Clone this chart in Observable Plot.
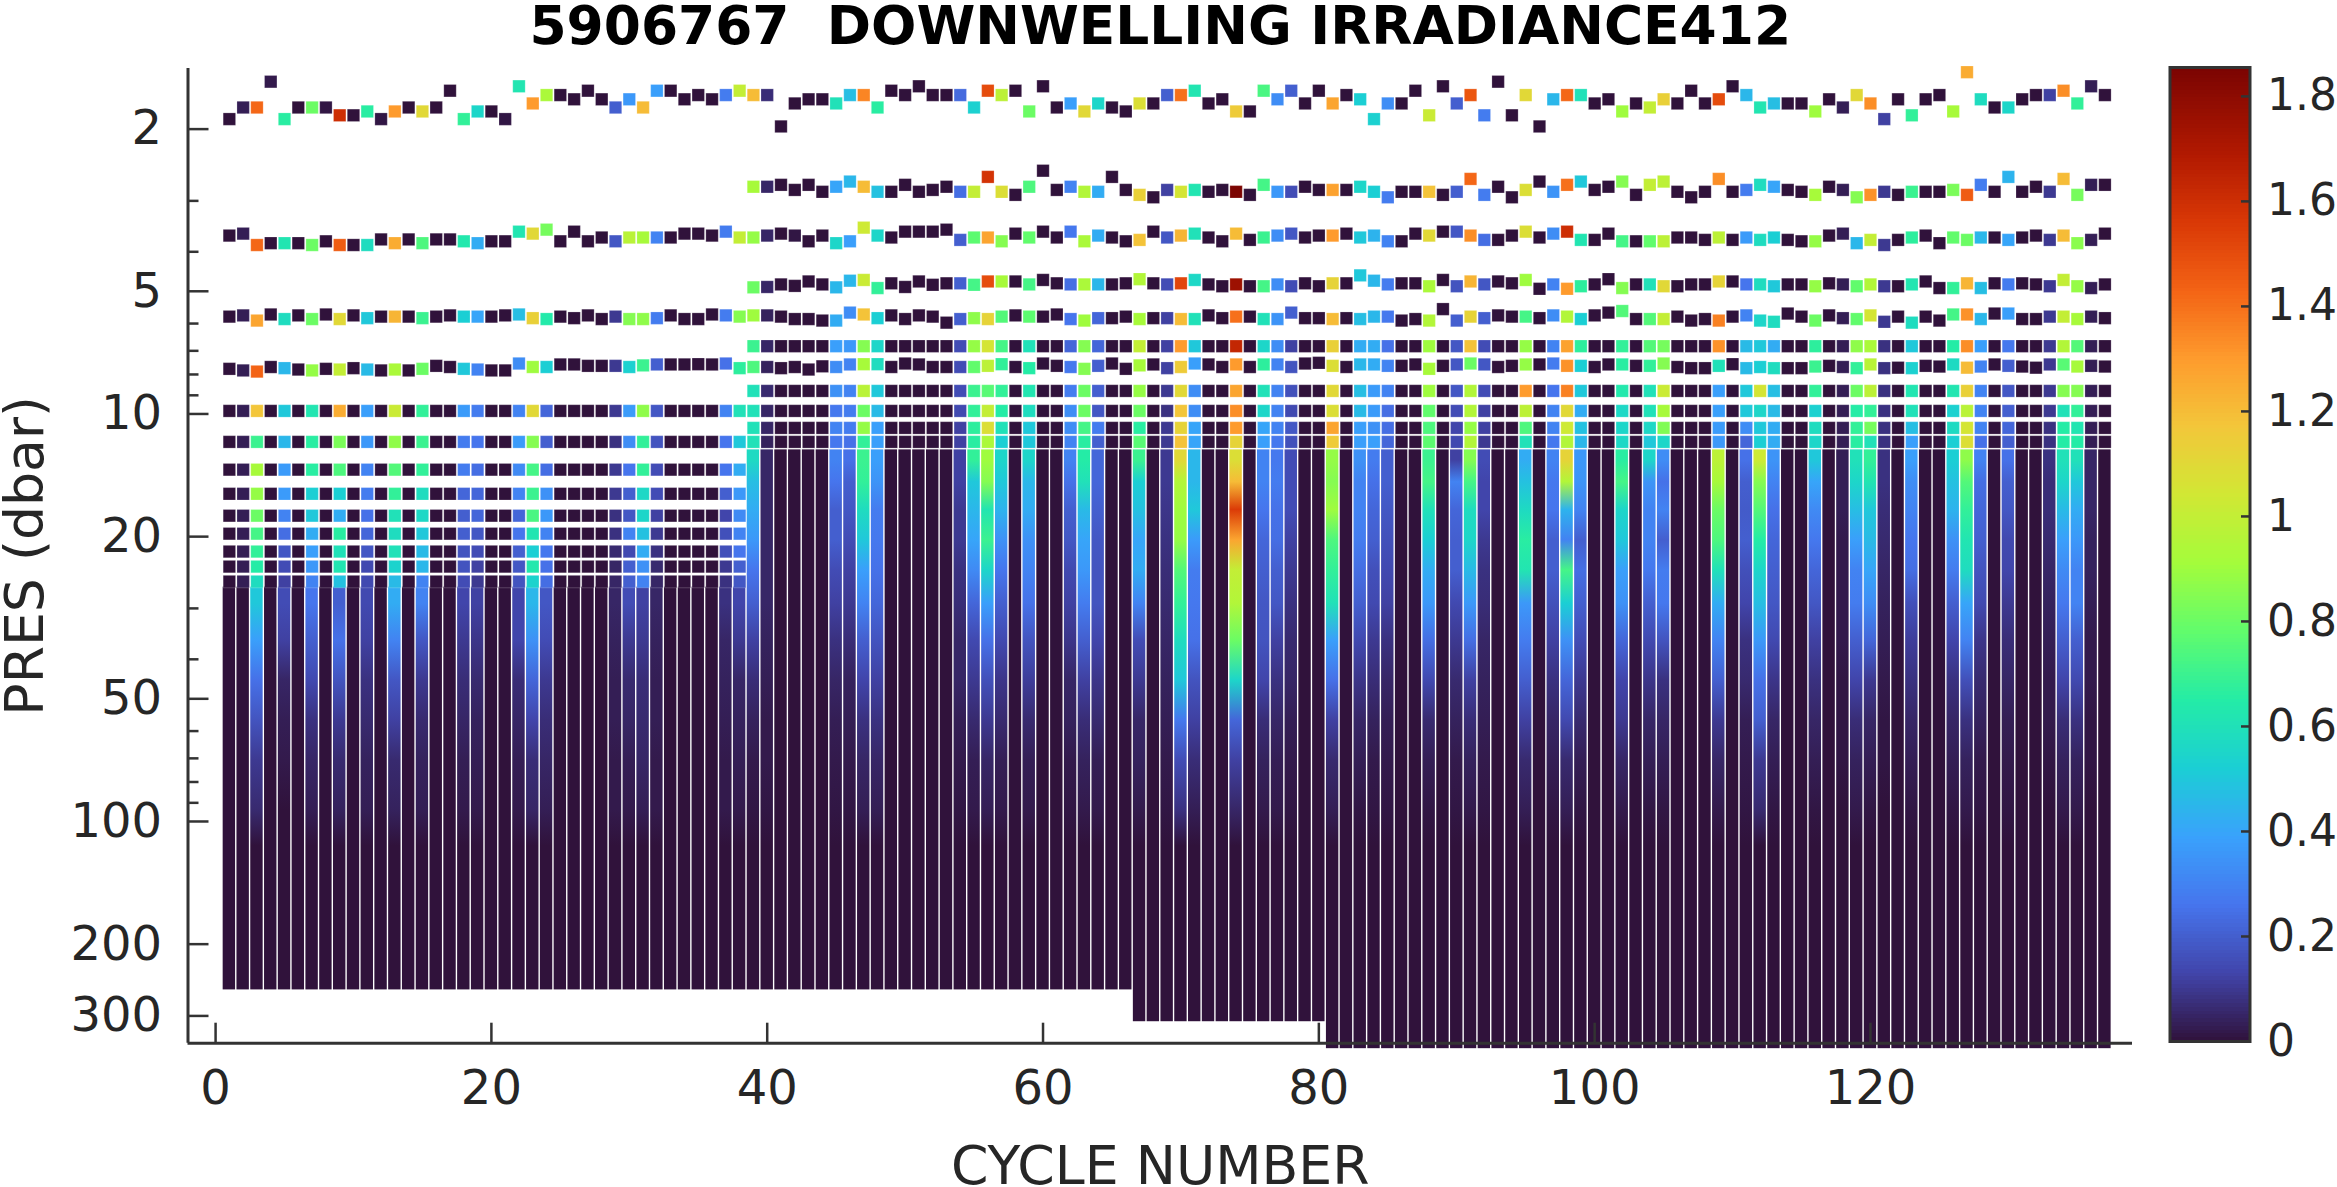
<!DOCTYPE html>
<html><head><meta charset="utf-8">
<script src="https://cdn.jsdelivr.net/npm/d3@7"></script>
<script src="https://cdn.jsdelivr.net/npm/@observablehq/plot@0.6"></script>
<style>html,body{margin:0;padding:0;background:#fff;width:2337px;height:1187px;overflow:hidden}
#main,#bar{position:absolute;top:0}#main{left:0}#bar{left:2100px}svg{display:block;overflow:visible;font-family:"DejaVu Sans"}</style>
</head><body><div id="main"></div><div id="bar"></div>
<script>
const titleText = "5906767  DOWNWELLING IRRADIANCE412";
const xLabel = "CYCLE NUMBER", yLabel = "PRES (dbar)";
const xTicks = [0,20,40,60,80,100,120];
const yMajor = [2,5,10,20,50,100,200,300];
const yMinor = [3,4,6,7,8,9,30,40,60,70,80,90];
const barTicks = [0,.2,.4,.6,.8,1,1.2,1.4,1.6,1.8];
const colorStops = [0,.13,.26,.39,.52,.65,.78,.91,1.04,1.17,1.3,1.43,1.56,1.69,1.855];
const colorRange = ["#30123b","#4145ab","#4675ed","#39a2fc","#1bcfd4","#24eca6","#61fc6c","#a4fc3b","#d1e834","#f3c63a","#fe9b2d","#f36315","#d93806","#b11901","#7a0402"];

// levels with a pressure read per cycle, cycles 1..137
const p1 = [1.89,1.77,1.77,1.53,1.89,1.77,1.77,1.77,1.85,1.85,1.81,1.89,1.81,1.77,1.81,1.77,1.61,1.89,1.81,1.81,1.89,1.57,1.73,1.65,1.65,1.69,1.61,1.69,1.77,1.69,1.77,1.61,1.61,1.69,1.65,1.69,1.65,1.61,1.65,1.65,1.97,1.73,1.69,1.69,1.73,1.65,1.65,1.77,1.61,1.65,1.57,1.65,1.65,1.65,1.77,1.61,1.65,1.61,1.81,1.57,1.77,1.73,1.81,1.73,1.77,1.81,1.73,1.73,1.65,1.65,1.61,1.73,1.69,1.81,1.81,1.61,1.69,1.61,1.73,1.61,1.73,1.65,1.69,1.89,1.73,1.73,1.61,1.85,1.57,1.73,1.65,1.85,1.53,1.85,1.65,1.97,1.69,1.65,1.65,1.73,1.69,1.81,1.73,1.77,1.69,1.73,1.61,1.73,1.69,1.57,1.65,1.77,1.73,1.73,1.73,1.81,1.69,1.77,1.65,1.73,1.89,1.69,1.85,1.69,1.65,1.81,1.45,1.69,1.77,1.77,1.69,1.65,1.65,1.61,1.73,1.57,1.65];
const v1 = [0,.03,1.42,.02,.66,0,.8,.01,1.6,0,.66,.01,1.3,0,1.1,0,0,.68,.55,0,.01,.62,1.3,.93,0,0,0,0,.2,.36,1.2,.38,0,0,0,0,.28,1,1.2,.07,0,0,0,0,.6,.47,1.35,.66,0,0,0,0,0,.23,.53,1.5,.98,0,.8,0,0,.38,1.1,.55,0,0,1.08,0,.2,1.4,.62,0,0,1.15,0,.73,.33,.2,0,0,1.27,0,.52,.53,.33,0,0,1.02,0,.2,1.47,.28,0,0,1.1,0,.45,1.42,.6,0,0,.9,0,1,1.13,0,0,0,1.5,0,.45,.62,.47,0,0,.9,0,.03,1.1,1.33,.12,0,.68,0,0,.92,1.25,.58,0,.55,0,0,.12,1.33,.68,.03,0];
const p3 = [3.65,3.61,3.85,3.81,3.81,3.81,3.85,3.77,3.85,3.85,3.85,3.73,3.81,3.73,3.81,3.73,3.73,3.77,3.81,3.77,3.77,3.57,3.61,3.53,3.77,3.57,3.77,3.69,3.77,3.69,3.69,3.69,3.69,3.61,3.61,3.65,3.57,3.69,3.69,3.65,3.61,3.65,3.77,3.65,3.81,3.77,3.49,3.65,3.69,3.57,3.57,3.57,3.53,3.74,3.69,3.69,3.77,3.61,3.69,3.57,3.69,3.57,3.77,3.65,3.69,3.77,3.74,3.57,3.69,3.65,3.61,3.69,3.77,3.61,3.74,3.69,3.65,3.61,3.69,3.65,3.65,3.61,3.69,3.65,3.77,3.77,3.61,3.65,3.57,3.57,3.65,3.74,3.74,3.65,3.57,3.69,3.61,3.57,3.74,3.74,3.61,3.77,3.77,3.77,3.77,3.69,3.69,3.74,3.69,3.74,3.69,3.74,3.69,3.74,3.77,3.77,3.65,3.61,3.81,3.74,3.85,3.74,3.69,3.65,3.81,3.69,3.74,3.69,3.69,3.74,3.69,3.65,3.74,3.65,3.81,3.74,3.61];
const v3 = [0,.03,1.42,0,.62,0,.8,0,1.45,0,.58,0,1.25,0,.74,0,0,.63,.42,0,0,.62,1.1,.82,0,0,0,0,.18,.97,.92,.3,0,0,0,0,.28,1,.88,.05,0,.01,0,0,.55,.38,1.03,.55,0,0,0,0,0,.2,.77,1.27,.85,0,.78,0,0,.27,.93,.42,0,0,1.18,0,.18,1.22,.6,0,0,1.2,0,.7,.33,.18,0,0,1.3,0,.5,.44,.3,0,0,1.1,0,.18,1.33,.24,0,0,1.08,0,.33,1.6,.62,0,0,.72,0,.78,.98,0,0,0,.98,0,.37,.58,.52,0,0,.88,0,.03,.45,1,.1,0,.67,0,0,.78,.8,.45,0,.4,0,0,.1,1.2,.86,.03,0];
const p5 = [5.77,5.73,5.9,5.7,5.85,5.73,5.85,5.7,5.85,5.73,5.82,5.77,5.77,5.77,5.82,5.77,5.73,5.77,5.77,5.77,5.73,5.7,5.82,5.85,5.77,5.82,5.73,5.85,5.77,5.85,5.85,5.82,5.73,5.85,5.85,5.7,5.73,5.77,5.73,5.73,5.77,5.85,5.85,5.9,5.9,5.64,5.7,5.82,5.73,5.85,5.73,5.77,5.97,5.85,5.82,5.85,5.77,5.73,5.77,5.77,5.7,5.85,5.9,5.82,5.82,5.77,5.85,5.82,5.82,5.85,5.85,5.73,5.82,5.77,5.77,5.85,5.85,5.64,5.82,5.82,5.85,5.82,5.85,5.77,5.77,5.9,5.85,5.9,5.53,5.9,5.77,5.82,5.73,5.77,5.77,5.82,5.73,5.77,5.85,5.73,5.64,5.59,5.85,5.85,5.85,5.77,5.9,5.85,5.9,5.77,5.73,5.9,5.94,5.67,5.77,5.9,5.73,5.82,5.85,5.73,5.94,5.77,5.97,5.77,5.9,5.7,5.7,5.85,5.67,5.67,5.85,5.85,5.77,5.77,5.85,5.77,5.82];
const v5 = [0,.03,1.27,0,.58,0,.8,0,1.1,0,.5,0,1.22,0,.7,0,0,.52,.4,0,0,.47,1.13,.64,0,0,0,0,.1,.85,.87,.28,0,0,0,0,.28,.85,.9,.04,0,0,0,0,.42,.33,1.18,.52,0,0,0,0,0,.2,.87,1.12,.75,0,.77,0,0,.26,.9,.22,0,0,.92,0,.12,1.2,.6,0,0,1.4,0,.6,.35,.2,0,0,1.2,0,.47,.45,.27,0,0,.95,0,.2,1.12,.2,0,0,.72,0,.33,.95,.52,0,0,.75,0,.75,1,0,0,0,1.36,0,.3,.55,.58,0,0,.8,0,.03,.78,1.05,.1,0,.58,0,0,.72,1.32,.45,0,.38,0,0,.1,1,.92,.03,0];
const p7 = [7.75,7.82,7.87,7.67,7.72,7.78,7.82,7.75,7.78,7.72,7.78,7.82,7.78,7.82,7.75,7.62,7.67,7.75,7.78,7.82,7.82,7.52,7.67,7.67,7.56,7.56,7.62,7.62,7.62,7.67,7.6,7.56,7.56,7.56,7.55,7.56,7.52,7.72,7.67,7.67,7.72,7.67,7.78,7.64,7.67,7.56,7.55,7.55,7.67,7.52,7.56,7.67,7.67,7.67,7.67,7.62,7.55,7.67,7.72,7.52,7.62,7.67,7.75,7.62,7.52,7.75,7.6,7.56,7.72,7.67,7.52,7.56,7.67,7.56,7.67,7.56,7.56,7.67,7.52,7.49,7.62,7.67,7.56,7.56,7.62,7.62,7.56,7.75,7.62,7.56,7.52,7.56,7.67,7.62,7.56,7.56,7.52,7.62,7.62,7.67,7.56,7.56,7.62,7.62,7.52,7.67,7.72,7.72,7.62,7.55,7.72,7.67,7.72,7.72,7.72,7.65,7.62,7.67,7.72,7.56,7.72,7.7,7.72,7.62,7.65,7.56,7.7,7.65,7.56,7.62,7.65,7.7,7.56,7.56,7.65,7.62,7.65];
const v7 = [0,.03,1.43,0,.45,0,.88,0,1,0,.46,0,.93,0,.8,0,0,.5,.3,0,0,.33,.9,.52,0,0,0,0,.1,.53,.7,.2,0,0,0,0,.25,.67,.74,.04,0,0,0,0,.33,.3,.92,.58,0,0,0,0,0,.15,.78,.98,.68,0,.65,0,0,.27,.85,.2,0,0,.92,0,.12,1.15,.38,0,0,1.3,0,.67,.3,.17,0,0,1.08,0,.45,.42,.3,0,0,.92,0,.18,.8,.18,0,0,.88,0,.28,1.32,.52,0,0,.66,0,.68,.85,0,0,0,.6,0,.46,.52,.58,0,0,.7,0,.03,.68,.97,.08,0,.53,0,0,.57,1.2,.3,0,.2,0,0,.1,.76,.92,.03,0];
// all-cycle levels at a typical pressure
const allP = [9.83,11.71];
const v9 = [0,.03,1.17,0,.5,0,.62,0,1.25,0,.38,0,1.02,0,.68,0,0,.37,.28,0,0,.3,1.1,.22,0,0,0,0,.1,.37,.87,.18,0,0,0,0,.3,.6,.6,.05,0,0,0,0,.27,.28,.8,.46,0,0,0,0,0,.14,.68,1,.65,0,.58,0,0,.33,.8,.18,0,0,.8,0,.08,1.17,.33,0,0,1.33,0,.55,.3,.14,0,0,1.08,0,.46,.37,.24,0,0,.78,0,.15,.95,.12,0,0,.98,0,.3,1.1,.42,0,0,.56,0,.6,.92,0,0,0,.38,0,.5,.55,.46,0,0,.53,0,.03,.65,.68,.08,0,.6,0,0,.53,.97,.3,0,.2,0,0,.1,.6,.68,.03,0];
const v11 = [0,.03,.7,0,.45,0,.66,0,.83,0,.36,0,.87,0,.7,0,0,.28,.26,0,0,.37,.85,.2,0,0,0,0,.08,.33,.68,.17,0,0,0,0,.26,.5,.6,.04,0,0,0,0,.27,.25,.68,.38,0,0,0,0,0,.12,.66,.93,.52,0,.5,0,0,.3,.66,.2,0,0,.76,0,.1,1.18,.4,0,0,1.12,0,.38,.27,.16,0,0,1.15,0,.38,.38,.22,0,0,.77,0,.14,.95,.1,0,0,.6,0,.27,.95,.45,0,0,.56,0,.5,.55,0,0,0,.36,0,.22,.52,.42,0,0,.55,0,.03,.66,.6,.08,0,.38,0,0,.52,1.08,.25,0,.2,0,0,.08,.65,.65,.03,0];
// levels only sampled from cycle 39 on, cycles 39..137
const q3 = [2.77,2.77,2.74,2.82,2.74,2.85,2.77,2.69,2.77,2.85,2.85,2.74,2.85,2.82,2.77,2.85,2.85,2.62,2.85,2.9,2.77,2.53,2.82,2.77,2.85,2.85,2.62,2.82,2.9,2.94,2.82,2.85,2.82,2.85,2.82,2.85,2.9,2.74,2.85,2.85,2.77,2.82,2.82,2.82,2.77,2.85,2.94,2.85,2.85,2.85,2.9,2.85,2.65,2.9,2.77,2.94,2.82,2.69,2.85,2.74,2.69,2.82,2.77,2.69,2.9,2.74,2.69,2.85,2.94,2.85,2.65,2.85,2.82,2.74,2.77,2.82,2.85,2.9,2.77,2.82,2.94,2.9,2.85,2.9,2.85,2.85,2.85,2.82,2.9,2.74,2.85,2.62,2.85,2.77,2.85,2.65,2.9,2.74,2.74];
const w3 = [.92,.05,0,0,0,0,.4,.45,1.2,.48,0,0,0,0,0,.24,1,1.58,1.08,0,.74,0,0,.3,.95,.42,0,0,1.13,0,.12,1.05,.62,0,0,1.85,0,.72,.36,.15,0,0,1.28,0,.55,.52,.28,0,0,1.18,0,.2,1.42,.28,0,0,1.08,0,.35,1.4,.5,0,0,.85,0,1,.98,0,0,0,1.33,0,.28,.58,.4,0,0,.92,0,.03,.85,1.32,.1,0,.7,0,0,.83,1.45,.28,0,.44,0,0,.1,1.2,.82,.03,0];
const q5 = [4.89,4.88,4.81,4.85,4.73,4.81,4.89,4.71,4.69,4.91,4.78,4.88,4.73,4.82,4.78,4.78,4.82,4.73,4.73,4.73,4.81,4.69,4.78,4.81,4.81,4.81,4.81,4.78,4.67,4.78,4.81,4.78,4.69,4.81,4.86,4.81,4.86,4.86,4.81,4.86,4.78,4.86,4.78,4.78,4.57,4.71,4.81,4.78,4.78,4.86,4.69,4.86,4.73,4.81,4.73,4.78,4.69,4.93,4.81,4.93,4.86,4.81,4.67,4.91,4.81,4.81,4.86,4.86,4.81,4.81,4.73,4.73,4.81,4.81,4.86,4.81,4.81,4.86,4.78,4.81,4.86,4.81,4.86,4.86,4.81,4.73,4.91,4.91,4.78,4.91,4.78,4.81,4.78,4.81,4.86,4.69,4.86,4.91,4.81];
const w5 = [.8,.05,0,0,0,0,.45,.45,1.02,.68,0,0,0,0,0,.2,.72,1.5,.92,0,.72,0,0,.24,.93,.45,0,0,.95,0,.15,1.52,.56,0,0,1.75,0,.72,.33,.15,0,0,1.12,0,.5,.45,.28,0,0,.93,0,.17,1.22,.18,0,0,.9,0,.3,1.3,.67,0,0,.85,0,.6,1.1,0,0,0,1.12,0,.26,.58,.5,0,0,.88,0,.03,.78,.95,.1,0,.62,0,0,.68,1.22,.47,0,.28,0,0,.1,1,.88,.03,0];
const laterP = [6.82,8.78,10.82];
const w7 = [.7,.05,0,0,0,0,.38,.36,.85,.55,0,0,0,0,0,.15,.88,1.05,.72,0,.6,0,0,.22,.85,.22,0,0,1,0,.12,1.3,.5,0,0,1.63,0,.55,.33,.12,0,0,1.13,0,.42,.42,.25,0,0,.9,0,.18,1.18,.15,0,0,.88,0,.3,1.28,.67,0,0,.68,0,.75,.82,0,0,0,1.32,0,.46,.5,.42,0,0,.67,0,.03,.87,.93,.08,0,.5,0,0,.65,1.33,.38,0,.27,0,0,.1,.95,.75,.03,0];
const w9 = [.6,.06,0,0,0,0,.34,.3,.97,.5,0,0,0,0,0,.15,.7,.76,.68,0,.62,0,0,.28,.8,.2,0,0,.88,0,.1,1.1,.33,0,0,1.27,0,.6,.3,.16,0,0,1.1,0,.47,.37,.3,0,0,.9,0,.18,.95,.15,0,0,1.3,0,.26,1.36,.5,0,0,.63,0,.6,1.02,0,0,0,.38,0,.5,1.05,.47,0,0,.68,0,.03,.8,.98,.08,0,.62,0,0,.62,1.13,.3,0,.18,0,0,.1,.85,.85,.03,0];
const w11 = [.6,.05,0,0,0,0,.3,.28,.88,.38,0,0,0,0,0,.12,.67,1.08,.6,0,.5,0,0,.33,.72,.28,0,0,.66,0,.1,1.12,.4,0,0,1.3,0,.4,.3,.18,0,0,1.27,0,.38,.34,.24,0,0,.74,0,.13,.88,.12,0,0,.74,0,.3,1.03,.48,0,0,.55,0,.56,.84,0,0,0,.37,0,.33,.5,.42,0,0,.58,0,.03,.68,.82,.08,0,.47,0,0,.57,1.05,.3,0,.22,0,0,.08,.65,.62,.03,0];
// levels only separated before cycle 39; non-dark cycles listed
const earlyCycles = [3,5,7,9,11,13,15,18,19,22,23,24,29,30,31,32,37,38];
const earlyP = [13.7,15.7,17.77,19.67,21.76,23.69,25.78];
const e1 = [.92,.37,.66,.74,.3,.75,.68,.28,.24,.32,.72,.24,.1,.26,.68,.15,.26,.42];
const e2 = [.88,.37,.52,.52,.28,.68,.58,.22,.22,.3,.7,.34,.1,.2,.56,.15,.2,.36];
const e3 = [.8,.3,.5,.42,.25,.6,.56,.2,.22,.22,.73,.36,.08,.18,.55,.12,.13,.32];
const e4 = [.72,.24,.42,.66,.22,.58,.5,.2,.18,.26,.62,.3,.08,.3,.48,.1,.16,.3];
const e5 = [.68,.18,.38,.6,.18,.6,.46,.17,.15,.2,.52,.27,.06,.14,.42,.08,.16,.26];
const e6 = [.65,.15,.36,.62,.14,.54,.45,.17,.12,.18,.63,.25,.05,.2,.34,.06,.1,.2];
const e7 = [.58,.12,.3,.48,.14,.46,.3,.15,.1,.17,.54,.24,.05,.2,.3,.05,.08,.18];
// continuous lower water column: pressures at which each profile was read
const bandP = [13,14.7,17.2,20.4,24.2,29.2,36,45,56.5,71,94];
const earlyDeep = [[.5,.38,.25,.17,.1,.06],[.15,.12,.05,.03,.02,0],[.26,.2,.14,.08,.05,.03],[.2,.25,.17,.1,.06,.04],[.14,.12,.08,.06,.04,.03],[.42,.3,.18,.12,.06,.04],[.3,.18,.1,.06,.04,.03],[.13,.1,.07,.05,.03,.02],[.12,.09,.06,.04,.03,.02],[.13,.13,.07,.05,.03,.02],[.45,.34,.22,.13,.07,.05],[.18,.15,.1,.07,.05,.03],[.05,.04,.03,.03,.02,.02],[.15,.1,.06,.05,.03,.02],[.12,.1,.07,.06,.05,.03],[.05,.04,.03,.03,.02,.02],[.08,.05,.04,.03,.02,.02],[.13,.1,.05,.04,.03,.02]];
const lateCycles = [39,40,45,46,47,48,54,55,56,57,59,62,63,64,67,69,70,71,74,76,77,78,81,83,84,85,88,90,91,92,95,97,98,99,102,104,105,109,111,112,113,116,118,119,120,121,123,126,127,128,130,133,134,135,136];
const lateDeep = [
[.57,.47,.42,.36,.26,.2,.12,.07,.04,.02,.01],[.05,.05,.05,.05,.05,.05,.04,.03,.02,.02,.01],[.3,.26,.2,.2,.15,.12,.08,.05,.03,.02,.01],[.25,.2,.18,.15,.12,.1,.07,.04,.03,.02,.01],
[.7,.68,.58,.5,.38,.3,.2,.13,.08,.05,.03],[.38,.35,.28,.27,.25,.22,.17,.12,.08,.05,.03],[.12,.12,.1,.1,.08,.07,.05,.05,.03,.02,.01],[.68,.5,.45,.4,.32,.22,.14,.1,.06,.03,.02],
[.9,.85,.62,.7,.55,.38,.25,.16,.1,.05,.03],[.55,.5,.44,.34,.26,.2,.14,.09,.06,.03,.02],[.55,.45,.42,.34,.3,.25,.17,.11,.06,.03,.02],[.3,.25,.2,.18,.14,.12,.09,.05,.04,.02,.01],
[.65,.6,.46,.4,.36,.28,.2,.12,.07,.04,.02],[.22,.22,.2,.18,.17,.17,.13,.09,.06,.03,.02],[.7,.52,.48,.4,.42,.3,.15,.1,.05,.04,.02],[.1,.1,.09,.08,.07,.06,.05,.04,.03,.02,.01],
[1.1,.95,.9,.88,.75,.68,.58,.5,.27,.15,.08],[.45,.45,.5,.37,.28,.27,.25,.17,.12,.07,.03],[1.08,1.2,1.55,1.27,1,.95,.8,.55,.22,.12,.05],[.3,.3,.26,.22,.2,.18,.17,.13,.07,.04,.02],
[.27,.28,.25,.24,.2,.18,.12,.08,.05,.03,.02],[.15,.15,.15,.12,.1,.08,.06,.05,.03,.02,.01],[.88,.85,.9,.74,.68,.6,.38,.25,.12,.06,.03],[.34,.3,.3,.28,.24,.2,.14,.09,.05,.03,.01],
[.28,.25,.22,.2,.16,.14,.1,.07,.04,.02,.01],[.2,.2,.18,.16,.14,.12,.08,.05,.03,.02,.01],[.7,.72,.6,.52,.42,.36,.24,.14,.06,.03,.01],[.12,.3,.22,.2,.2,.14,.1,.06,.04,.02,.01],
[.85,.72,.58,.55,.46,.36,.24,.12,.07,.04,.02],[.15,.13,.13,.1,.08,.07,.05,.04,.03,.02,.01],[.42,.48,.57,.66,.62,.36,.28,.2,.12,.06,.03],[.3,.27,.26,.2,.2,.16,.12,.08,.05,.03,.01],
[1.12,.95,.44,.3,.72,.52,.34,.22,.14,.06,.03],[.36,.35,.3,.2,.24,.2,.15,.1,.06,.03,.01],[.66,.72,.55,.5,.38,.34,.22,.13,.1,.05,.02],[.55,.35,.3,.3,.27,.2,.14,.09,.05,.03,.01],
[.33,.25,.3,.2,.28,.27,.17,.08,.05,.03,.01],[.98,.92,.8,.74,.6,.42,.3,.2,.1,.05,.02],[.25,.2,.19,.2,.16,.13,.08,.06,.03,.02,.01],[1.03,.85,.75,.65,.55,.47,.36,.25,.2,.1,.06],
[.35,.3,.25,.22,.2,.18,.14,.09,.05,.03,.01],[.5,.4,.32,.27,.22,.18,.12,.08,.05,.03,.01],[.03,.03,.03,.02,.02,.02,.02,.01,.01,.01,0],[.6,.55,.47,.38,.3,.28,.2,.13,.07,.04,.02],
[.68,.62,.5,.46,.4,.33,.22,.1,.05,.03,.01],[.08,.08,.07,.06,.05,.04,.03,.02,.01,.01,0],[.38,.33,.3,.26,.24,.16,.11,.08,.05,.03,.01],[.52,.48,.44,.34,.28,.2,.13,.08,.05,.03,.01],
[.87,.75,.68,.62,.58,.4,.3,.16,.08,.04,.02],[.3,.24,.22,.2,.17,.14,.09,.06,.04,.02,.01],[.25,.2,.18,.14,.13,.1,.07,.05,.03,.02,.01],[.08,.07,.07,.06,.05,.04,.03,.02,.02,.01,0],
[.6,.55,.46,.38,.32,.27,.2,.13,.07,.04,.02],[.6,.5,.42,.36,.3,.3,.2,.14,.08,.04,.02],[.05,.05,.05,.04,.04,.03,.02,.02,.01,.01,0]];
// deepest sample per deployment phase
const phaseStart = [1,67,81];
const phaseBottom = [259,310,361];
const darkBelow = 115;
const earlyTop = 26.6, lateTop = 12.25, firstLate = 39, lastCycle = 137;

// assemble tables
const cycles = d3.range(1, lastCycle + 1);
const dots = [];
cycles.forEach((c,i)=>{
  dots.push({c,p:p1[i],v:v1[i]},{c,p:p3[i],v:v3[i]},{c,p:p5[i],v:v5[i]},{c,p:p7[i],v:v7[i]});
  [v9,v11].forEach((a,j)=>dots.push({c,p:allP[j],v:a[i]}));
  if (c>=firstLate) {
    const l=c-firstLate;
    dots.push({c,p:q3[l],v:w3[l]},{c,p:q5[l],v:w5[l]});
    [w7,w9,w11].forEach((a,j)=>dots.push({c,p:laterP[j],v:a[l]}));
  } else earlyP.forEach((p,j)=>{const k=earlyCycles.indexOf(c);dots.push({c,p,v:k<0?(c===2?.03:0):[e1,e2,e3,e4,e5,e6,e7][j][k]});});
});
dots.sort((a,b)=>a.p-b.p);

const color = {type:"linear",domain:colorStops,range:colorRange,interpolate:"rgb"};
const colorOf = Plot.scale({color});
const bottomOf = c => phaseBottom[d3.bisectRight(phaseStart,c)-1];
const topOf = c => c<firstLate?earlyTop:lateTop;
const profiles = new Map();
earlyCycles.forEach((c,i)=>profiles.set(c,earlyDeep[i].map((v,j)=>({p:bandP[j+5],v}))));
lateCycles.forEach((c,i)=>profiles.set(c,lateDeep[i].map((v,j)=>({p:bandP[j],v}))));
const columns = cycles.map(c=>({c,top:topOf(c),bottom:bottomOf(c)}));
const gradients = () => {
  const defs = d3.create("svg:defs");
  for (const [c,prof] of profiles) {
    const top=topOf(c), bot=bottomOf(c), off=p=>Math.log(p/top)/Math.log(bot/top);
    const g = defs.append("linearGradient").attr("id",`col${c}`).attr("x1",0).attr("y1",0).attr("x2",0).attr("y2",1);
    [...prof,{p:darkBelow,v:0}].forEach(s=>g.append("stop").attr("offset",off(s.p)).attr("stop-color",colorOf.apply(s.v)));
  }
  return defs.node();
};

const ink = "#333333", textInk = "#262626", tickFont = 48, barFont = 44;
document.getElementById("main").append(Plot.plot({
  width:2337,height:1187,marginLeft:187.5,marginRight:205,marginTop:68,marginBottom:144.3,
  style:{background:"#fff",fontFamily:"DejaVu Sans"},
  x:{domain:[-2,139],axis:null},
  y:{type:"log",domain:[1.42,350],reverse:true,axis:null},
  color,
  marks:[
    gradients,
    Plot.rect(columns,{x1:d=>d.c-.45,x2:d=>d.c+.45,y1:"top",y2:"bottom",fill:{value:d=>profiles.has(d.c)?`url(#col${d.c})`:colorOf.apply(0),scale:null}}),
    Plot.dot(dots,{x:"c",y:"p",fill:"v",symbol:"square",r:7,stroke:"#fff",strokeOpacity:.35,strokeWidth:.6}),
    Plot.ruleX([-2],{stroke:ink,strokeWidth:3}),
    Plot.ruleY([350],{stroke:ink,strokeWidth:3}),
    Plot.axisY(yMinor,{anchor:"left",tickSize:11,dx:11,fill:"none",stroke:ink,strokeWidth:2.5,label:null}),
    Plot.axisY(yMajor,{anchor:"left",tickSize:21,dx:21,tickPadding:26,stroke:ink,strokeWidth:2.5,fill:textInk,fontSize:tickFont,label:null,tickFormat:d=>String(d)}),
    Plot.axisX(xTicks,{anchor:"bottom",tickSize:20,dy:-20,tickPadding:27,stroke:ink,strokeWidth:2.5,fill:textInk,fontSize:tickFont,label:null,tickFormat:d=>String(d)}),
    Plot.text([titleText],{frameAnchor:"top",lineAnchor:"bottom",dy:-25,fontSize:53.4,fontWeight:"bold",fill:"#000"}),
    Plot.text([xLabel],{frameAnchor:"bottom",lineAnchor:"bottom",dy:141,fontSize:53.7,fill:textInk}),
    Plot.text([yLabel],{frameAnchor:"left",textAnchor:"middle",rotate:-90,dx:-162,fontSize:53.7,fill:textInk})
  ]
}));
const barCount = 256;
const barLevels = d3.range(barCount);
const barMax = 1.855;
document.getElementById("bar").append(Plot.plot({
  width:237,height:1187,marginLeft:69.5,marginRight:87.5,marginTop:67,marginBottom:146,
  style:{background:"transparent",fontFamily:"DejaVu Sans"},
  x:{domain:[0,1],axis:null},
  y:{domain:[0,barMax],axis:null},
  color,
  marks:[
    Plot.rect(barLevels,{x1:0,x2:1,y1:i=>i*barMax/barCount,y2:i=>(i+1)*barMax/barCount,fill:i=>(i+.5)*barMax/barCount,shapeRendering:"crispEdges"}),
    Plot.frame({stroke:ink,strokeWidth:3}),
    Plot.axisY(barTicks,{anchor:"right",tickSize:9.5,dx:-9.5,tickPadding:17,stroke:ink,strokeWidth:2.5,fill:textInk,fontSize:barFont,label:null,tickFormat:d=>String(d)})
  ]
}));
</script></body></html>
